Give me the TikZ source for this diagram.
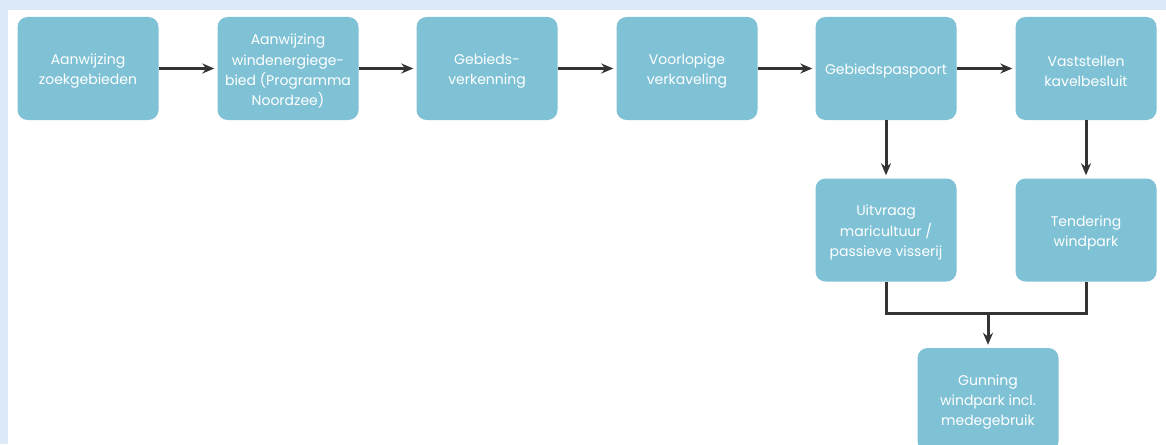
\documentclass[tikz,border=0pt]{standalone}
\usepackage{fontspec}
\setmainfont{Poppins}
\usetikzlibrary{arrows.meta}
\definecolor{boxblue}{RGB}{127,194,214}
\definecolor{framebg}{RGB}{220,233,247}
\definecolor{arrowgray}{RGB}{52,52,52}
% taller first line, so the text sits a little lower in its box
\newcommand{\topgap}{\rule{0pt}{16pt}}

\begin{document}
\begin{tikzpicture}[x=1pt, y=-1pt, >={Stealth[length=12pt,width=10pt]},
  box/.style={fill=boxblue, rounded corners=10pt, minimum width=141pt,
    minimum height=103pt, inner sep=0pt, text=white, align=center,
    font=\fontsize{14}{20.3}\selectfont},
  link/.style={arrowgray, line width=3pt},
  flow/.style={link, ->, shorten >=3pt}]
% Page with light frame at top and left
\useasboundingbox (0,0) rectangle (1166,444);
\fill[framebg] (0,0) rectangle (1166,444);
\fill[white] (8,10) rectangle (1166,444);
\clip (0,0) rectangle (1166,444);
% Top row
\node[box] (zoek)  at (88,68.5)   {\topgap Aanwijzing\\zoekgebieden};
\node[box] (wind)  at (288,68.5)  {\topgap Aanwijzing\\windenergiege-\\bied (Programma\\Noordzee)};
\node[box] (verk)  at (487,68.5)  {\topgap Gebieds-\\verkenning};
\node[box] (voorl) at (687,68.5)  {\topgap Voorlopige\\verkaveling};
\node[box] (pasp)  at (886,68.5)  {\topgap Gebiedspaspoort};
\node[box] (kavel) at (1086,68.5) {\topgap Vaststellen\\kavelbesluit};
% Second row
\node[box] (uitvr)  at (886,230)  {\topgap Uitvraag\\maricultuur /\\passieve visserij};
\node[box] (tender) at (1086,230) {\topgap Tendering\\windpark};
% Result
\node[box] (gun) at (988,399.5) {\topgap Gunning\\windpark incl.\\medegebruik};
% Connections
\draw[flow] (zoek) -- (wind);
\draw[flow] (wind) -- (verk);
\draw[flow] (verk) -- (voorl);
\draw[flow] (voorl) -- (pasp);
\draw[flow] (pasp) -- (kavel);
\draw[flow] (pasp) -- (uitvr);
\draw[flow] (kavel) -- (tender);
\coordinate (samen) at (988,313);
\draw[link] (uitvr.south) -- (uitvr.south |- samen) -- (tender.south |- samen) -- (tender.south);
\draw[flow] (samen) -- (gun);
\end{tikzpicture}
\end{document}
